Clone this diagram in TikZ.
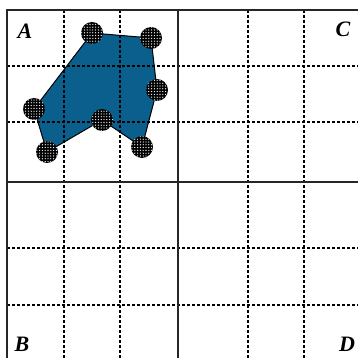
\documentclass[tikz,border=0pt]{standalone}
\usepackage{fontspec}
\setmainfont{Liberation Serif}
\usetikzlibrary{patterns}
\definecolor{polyblue}{RGB}{10,95,140}
\pgfdeclarepatternformonly{bigdots}{\pgfqpoint{-1pt}{-1pt}}{\pgfqpoint{1.8pt}{1.8pt}}{\pgfqpoint{2.8pt}{2.8pt}}
{\pgfpathcircle{\pgfqpoint{0.4pt}{0.4pt}}{0.65pt}\pgfusepath{fill}}
\begin{document}
\begin{tikzpicture}[x=1pt,y=-1pt,
  gridline/.style={line width=1.5pt, dash pattern=on 3pt off 2pt, black},
  frameline/.style={line width=1.6pt, black!85},
  dotdisc/.style={circle, minimum size=22pt, inner sep=0pt, fill=black, postaction={pattern=bigdots, pattern color=white}},
  corner/.style={font=\bfseries\itshape\fontsize{22}{22}\selectfont, inner sep=0pt}]
\useasboundingbox (0,0) rectangle (358,358);
\fill[white] (0,0) rectangle (358,358);
% vertices
\coordinate (p1) at (92,33);
\coordinate (p2) at (151,38);
\coordinate (p3) at (157,90);
\coordinate (p4) at (142,147);
\coordinate (p5) at (102,120);
\coordinate (p6) at (47,152);
\coordinate (p7) at (34,109);
% polygon
\filldraw[fill=polyblue, draw=black, line width=1pt] (p1) -- (p2) -- (p3) -- (p4) -- (p5) -- (p6) -- (p7) -- cycle;
% dashed grid
\foreach \v in {64,120,248,304} { \draw[gridline] (\v,10) -- (\v,358); }
\foreach \v in {66,122,248,305} { \draw[gridline] (7,\v) -- (358,\v); }
% solid lines
\draw[frameline] (358,10) -- (7,10) -- (7,358);
\draw[frameline] (178,10) -- (178,358);
\draw[frameline] (7,182) -- (358,182);
% discs
\foreach \i in {1,...,7} { \node[dotdisc] (d\i) at (p\i) {}; }
% labels
\node[corner] (lA) at (25,31) {A};
\node[corner] (lC) at (343,29) {C};
\node[corner] (lB) at (22,344) {B};
\node[corner] (lD) at (347,344) {D};
\end{tikzpicture}
\end{document}
